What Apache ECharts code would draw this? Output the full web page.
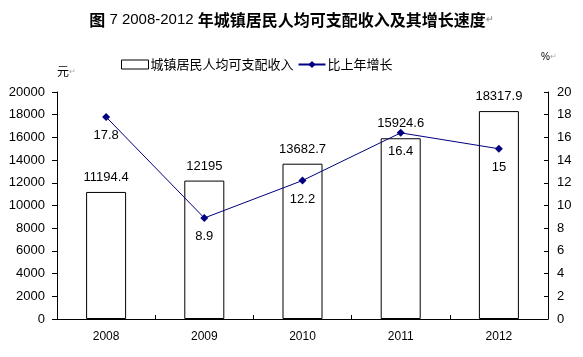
<!DOCTYPE html>
<html><head><meta charset="utf-8">
<script src="https://cdn.jsdelivr.net/npm/echarts@6/dist/echarts.min.js"></script>
<style>html,body{margin:0;padding:0;background:#fff}#c{width:583px;height:357px}</style>
</head><body><div id="c"></div>
<script>
const categories = ['2008', '2009', '2010', '2011', '2012'];
const incomeValues = [11194.4, 12195, 13682.7, 15924.6, 18317.9];
const growthValues = [17.8, 8.9, 12.2, 16.4, 15];
const leftTicks = [0, 2000, 4000, 6000, 8000, 10000, 12000, 14000, 16000, 18000, 20000];
const rightTicks = [0, 2, 4, 6, 8, 10, 12, 14, 16, 18, 20];
const seriesNames = ['城镇居民人均可支配收入', '比上年增长'];
const titleParts = ['图', ' 7 2008-2012 ', '年城镇居民人均可支配收入及其增长速度'];

const font = 'Arial, "Liberation Sans", "Noto Sans CJK SC", sans-serif';
const chart = echarts.init(document.getElementById('c'), null, {renderer: 'canvas'});
chart.setOption({
  backgroundColor: '#fff',
  animation: false,
  title: {
    text: '{b|' + titleParts[0] + '}{n|' + titleParts[1] + '}{b|' + titleParts[2] + '}{m|↵}',
    left: 'center', top: 7,
    textStyle: {
      rich: {
        b: {fontSize: 16, fontWeight: 'bold', color: '#000', fontFamily: '"Noto Sans CJK SC", sans-serif'},
        n: {fontSize: 15, fontWeight: 'normal', color: '#000', fontFamily: font},
        m: {fontSize: 9, color: '#999', fontFamily: font}
      }
    }
  },
  legend: {
    top: 53, left: 116,
    itemGap: 4,
    itemWidth: 27, itemHeight: 9,
    textStyle: {fontSize: 13, color: '#000', fontFamily: '"Noto Sans CJK SC", sans-serif', padding: [0,0,0,-3]},
    data: [
      {name: seriesNames[0], icon: 'rect', itemStyle: {color: '#fff', borderColor: '#000', borderWidth: 1}},
      {name: seriesNames[1]}
    ]
  },
  graphic: [
    {type: 'text', left: 57, top: 65, style: {text: '元', fill: '#000', font: '12px "Noto Sans CJK SC", sans-serif'}},
    {type: 'text', left: 69, top: 68, style: {text: '↵', fill: '#aaa', font: '8px sans-serif'}},
    {type: 'text', left: 541, top: 52, style: {text: '%', fill: '#000', font: '10px sans-serif'}},
    {type: 'text', left: 550, top: 53, style: {text: '↵', fill: '#aaa', font: '8px sans-serif'}}
  ],
  grid: {left: 57, right: 35, top: 92, bottom: 38, containLabel: false},
  xAxis: {
    type: 'category',
    data: categories,
    axisLine: {lineStyle: {color: '#000', width: 1}},
    axisTick: {show: true, inside: true, length: 4, lineStyle: {color: '#000'}},
    axisLabel: {color: '#000', fontSize: 12, fontFamily: font, margin: 12}
  },
  yAxis: [
    {
      type: 'value', min: leftTicks[0], max: leftTicks[leftTicks.length - 1], interval: leftTicks[1] - leftTicks[0],
      axisLine: {show: true, lineStyle: {color: '#000', width: 1}},
      axisTick: {show: true, length: 5, lineStyle: {color: '#000'}},
      axisLabel: {color: '#000', fontSize: 13, fontFamily: font, margin: 12, formatter: v => String(v)},
      splitLine: {show: false}
    },
    {
      type: 'value', min: rightTicks[0], max: rightTicks[rightTicks.length - 1], interval: rightTicks[1] - rightTicks[0],
      position: 'right',
      axisLine: {show: true, lineStyle: {color: '#000', width: 1}},
      axisTick: {show: true, inside: true, length: 4, lineStyle: {color: '#000'}},
      axisLabel: {color: '#000', fontSize: 13, fontFamily: font, margin: 9, formatter: v => String(v)},
      splitLine: {show: false}
    }
  ],
  series: [
    {
      name: seriesNames[0], type: 'bar', yAxisIndex: 0, barWidth: 40,
      data: incomeValues,
      itemStyle: {color: '#fff', borderColor: '#000', borderWidth: 1},
      label: {show: true, position: 'top', distance: 8, color: '#000', fontSize: 13, fontFamily: font}
    },
    {
      name: seriesNames[1], type: 'line', yAxisIndex: 1,
      data: growthValues,
      symbol: 'diamond', symbolSize: 8,
      lineStyle: {color: '#000080', width: 1},
      itemStyle: {color: '#000080'},
      label: {show: true, position: 'bottom', distance: 8, color: '#000', fontSize: 13, fontFamily: font}
    }
  ]
});
</script></body></html>
